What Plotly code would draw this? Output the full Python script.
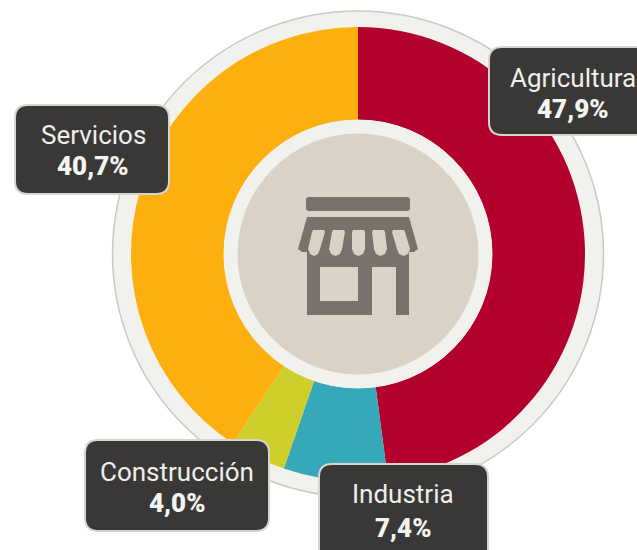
import plotly.graph_objects as go

categories = ["Agricultura", "Industria", "Construcción", "Servicios"]
values = [47.9, 7.4, 4.0, 40.7]
colors = ["#b3002d", "#35a8ba", "#cfcf2b", "#fdb00d"]

W, H = 637, 550
CX, CY = 358, 254
R_COLOR, R_HOLE = 227, 134

def px(x): return x / W
def py(y): return 1 - y / H

def circle(r, fill, line=None, layer="above", lw=1, ry=None):
    ry = ry or r
    return dict(type="circle", xref="paper", yref="paper", layer=layer,
                x0=px(CX - r), x1=px(CX + r), y0=py(CY + ry), y1=py(CY - ry),
                fillcolor=fill, line=dict(color=line or fill, width=lw))

def poly(points, fill):
    d = "M " + " L ".join(f"{px(x):.5f},{py(y):.5f}" for x, y in points) + " Z"
    return dict(type="path", xref="paper", yref="paper", path=d, fillcolor=fill,
                line=dict(width=0), layer="above")

def rrect(x0, y0, x1, y1, r, fill, line):
    rx, ry = r / W, r / H
    a, b, c, d = px(x0), px(x1), py(y0), py(y1)
    p = (f"M {a+rx:.5f},{c:.5f} L {b-rx:.5f},{c:.5f} Q {b:.5f},{c:.5f} {b:.5f},{c-ry:.5f} "
         f"L {b:.5f},{d+ry:.5f} Q {b:.5f},{d:.5f} {b-rx:.5f},{d:.5f} "
         f"L {a+rx:.5f},{d:.5f} Q {a:.5f},{d:.5f} {a:.5f},{d+ry:.5f} "
         f"L {a:.5f},{c-ry:.5f} Q {a:.5f},{c:.5f} {a+rx:.5f},{c:.5f} Z")
    return dict(type="path", xref="paper", yref="paper", path=p, fillcolor=fill,
                line=dict(color=line, width=2), layer="above")

fig = go.Figure(go.Pie(
    labels=categories, values=values, sort=False, direction="clockwise", rotation=0,
    hole=R_HOLE / R_COLOR, marker=dict(colors=colors, line=dict(width=0)),
    textinfo="none", showlegend=False,
    domain=dict(x=[px(CX - R_COLOR), px(CX + R_COLOR)], y=[py(CY + R_COLOR), py(CY - R_COLOR)]),
))

DARK, BEIGE = "#77726c", "#d8d3c6"
shapes = [circle(245.5, "#f1f1ee", "#c9c9c5", layer="below", lw=1.5, ry=243),
          circle(134, "#f1f1ee"), circle(120, BEIGE)]

# shop icon
shapes += [
    rrect(307, 198, 409, 210, 2, DARK, DARK),
    poly([(307, 217), (409, 217), (418, 249), (414, 252), (409, 252), (409, 315), (307, 315), (307, 252), (302, 252), (298, 249)], DARK),
    poly([(372, 267), (396, 267), (396, 317), (372, 317)], BEIGE),
    poly([(320, 267), (358, 267), (358, 301), (320, 301)], BEIGE),
]
for tl, tr, bl, br in [(312, 325, 308, 320), (332, 345, 329, 342), (352, 365, 352, 365),
                       (372, 385, 374, 387), (392, 405, 397, 410)]:
    m = (bl + br) / 2
    shapes.append(poly([(tl + 1, 230), (tr - 1, 230), (tr, 232), (br, 249), (br - 2, 254), (m, 256),
                        (bl + 2, 254), (bl, 249), (tl, 232)], BEIGE))

BOX, EDGE = "#3a3836", "#d4d4d0"
boxes = {"Agricultura": (489, 47, 660, 135, 573, 78, 109),
         "Servicios": (15, 105, 169, 194, 93, 135, 166),
         "Construcción": (85, 440, 269, 531, 177, 472, 503),
         "Industria": (319, 464, 488, 570, 403, 494, 528)}
annotations = []
for name, val in zip(categories, values):
    x0, y0, x1, y1, tx, ty1, ty2 = boxes[name]
    shapes.append(rrect(x0, y0, x1, y1, 13, BOX, EDGE))
    annotations.append(dict(text=name, x=px(tx), y=py(ty1), xref="paper", yref="paper", showarrow=False,
                            xanchor="center", yanchor="middle",
                            font=dict(family="Roboto", size=26, color="#eeeeea")))
    annotations.append(dict(text=f"{val:.1f}%".replace(".", ","), x=px(tx), y=py(ty2), xref="paper", yref="paper",
                            showarrow=False, xanchor="center", yanchor="middle",
                            font=dict(family="Roboto", size=26, weight=900, color="#f4f4f0")))

fig.update_layout(width=W, height=H, margin=dict(l=0, r=0, t=0, b=0), paper_bgcolor="white",
                  shapes=shapes, annotations=annotations, showlegend=False)
fig.write_html("out.html", config=dict(displayModeBar=False),
               post_script="document.body.style.margin='0';document.documentElement.style.overflow='hidden';")
